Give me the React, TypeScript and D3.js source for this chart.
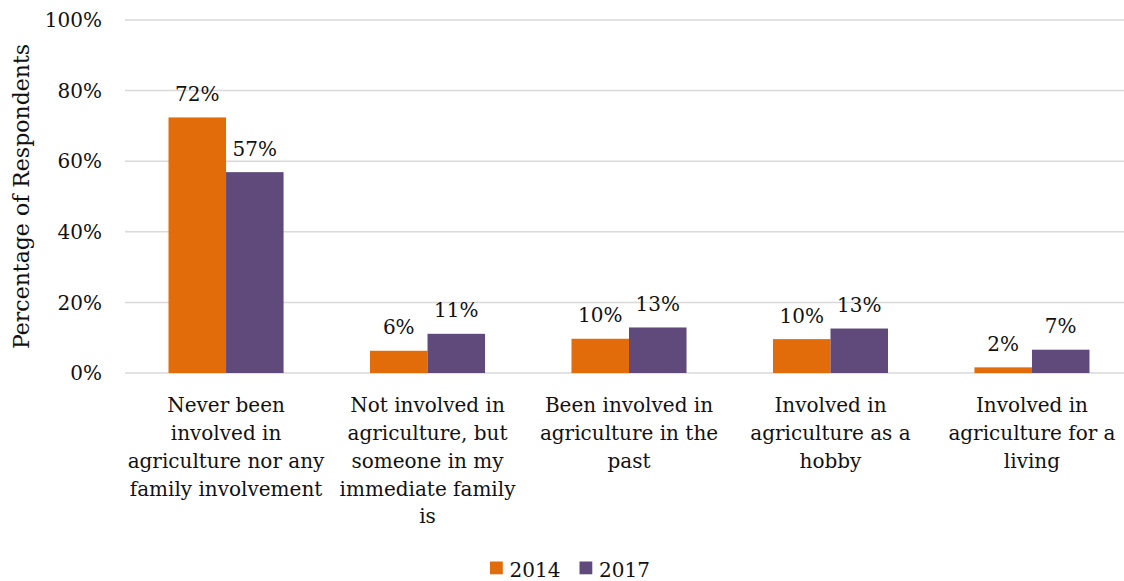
import React from "react";
import * as d3 from "d3";

const categories: string[][] = [
  ["Never been", "involved in", "agriculture nor any", "family involvement"],
  ["Not involved in", "agriculture, but", "someone in my", "immediate family", "is"],
  ["Been involved in", "agriculture in the", "past"],
  ["Involved in", "agriculture as a", "hobby"],
  ["Involved in", "agriculture for a", "living"],
];
const seriesNames = ["2014", "2017"];
const values2014 = [72.4, 6.3, 9.7, 9.6, 1.6];
const values2017 = [56.9, 11.1, 12.9, 12.6, 6.6];
const yTicks = [0, 20, 40, 60, 80, 100];
const colors = ["#E36C0A", "#604A7B"];

const W = 1124;
const H = 581;

export default function App() {
  const ids = categories.map((_, i) => String(i));
  const x = d3.scaleBand<string>().domain(ids).range([125.3, 1132.7]).padding(0);
  const step = x.step();
  const barW = step * 0.2855;
  const xs = d3.scaleBand<string>().domain(seriesNames).range([-barW, barW]).padding(0);
  const y = d3.scaleLinear().domain([0, 100]).range([373, 20]);
  const series = [values2014, values2017];
  const numFont = "'DejaVu Serif', serif";
  const textFont = "'DejaVu Serif', serif";

  return (
    <svg width={W} height={H} style={{ position: "absolute", left: 0, top: 0, background: "#fff" }}>
      {yTicks.map((t) => (
        <g key={t}>
          <line x1={125} x2={W} y1={y(t)} y2={y(t)} stroke="#D9D9D9" strokeWidth={1.5} />
          <text x={102} y={y(t)} dy="0.36em" textAnchor="end" fontFamily={numFont} fontSize={20} fill="#111">
            {t}%
          </text>
        </g>
      ))}
      <text
        transform={`translate(29,${(y(0) + y(100)) / 2}) rotate(-90)`}
        textAnchor="middle"
        fontFamily={numFont}
        fontSize={22}
        fill="#111"
      >
        Percentage of Respondents
      </text>
      {ids.map((id, ci) => {
        const cx = (x(id) as number) + step / 2;
        return (
          <g key={id}>
            {series.map((vals, si) => {
              const bx = cx + (xs(seriesNames[si]) as number);
              const v = vals[ci];
              return (
                <g key={si}>
                  <rect x={bx} y={y(v)} width={xs.bandwidth()} height={y(0) - y(v)} fill={colors[si]} />
                  <text
                    x={bx + xs.bandwidth() / 2}
                    y={y(v) - 16.5}
                    textAnchor="middle"
                    fontFamily={numFont}
                    fontSize={20}
                    fill="#111"
                  >
                    {Math.round(v)}%
                  </text>
                </g>
              );
            })}
            {categories[ci].map((line, li) => (
              <text
                key={li}
                x={cx}
                y={412.3 + li * 27.75}
                textAnchor="middle"
                fontFamily={textFont}
                fontSize={20}
                fill="#111"
              >
                {line}
              </text>
            ))}
          </g>
        );
      })}
      {seriesNames.map((name, si) => {
        const lx = 490 + si * 89.5;
        return (
          <g key={name}>
            <rect x={lx} y={561.5} width={12.8} height={12.8} fill={colors[si]} />
            <text x={lx + 19.5} y={577} fontFamily={numFont} fontSize={20} fill="#111">
              {name}
            </text>
          </g>
        );
      })}
    </svg>
  );
}
